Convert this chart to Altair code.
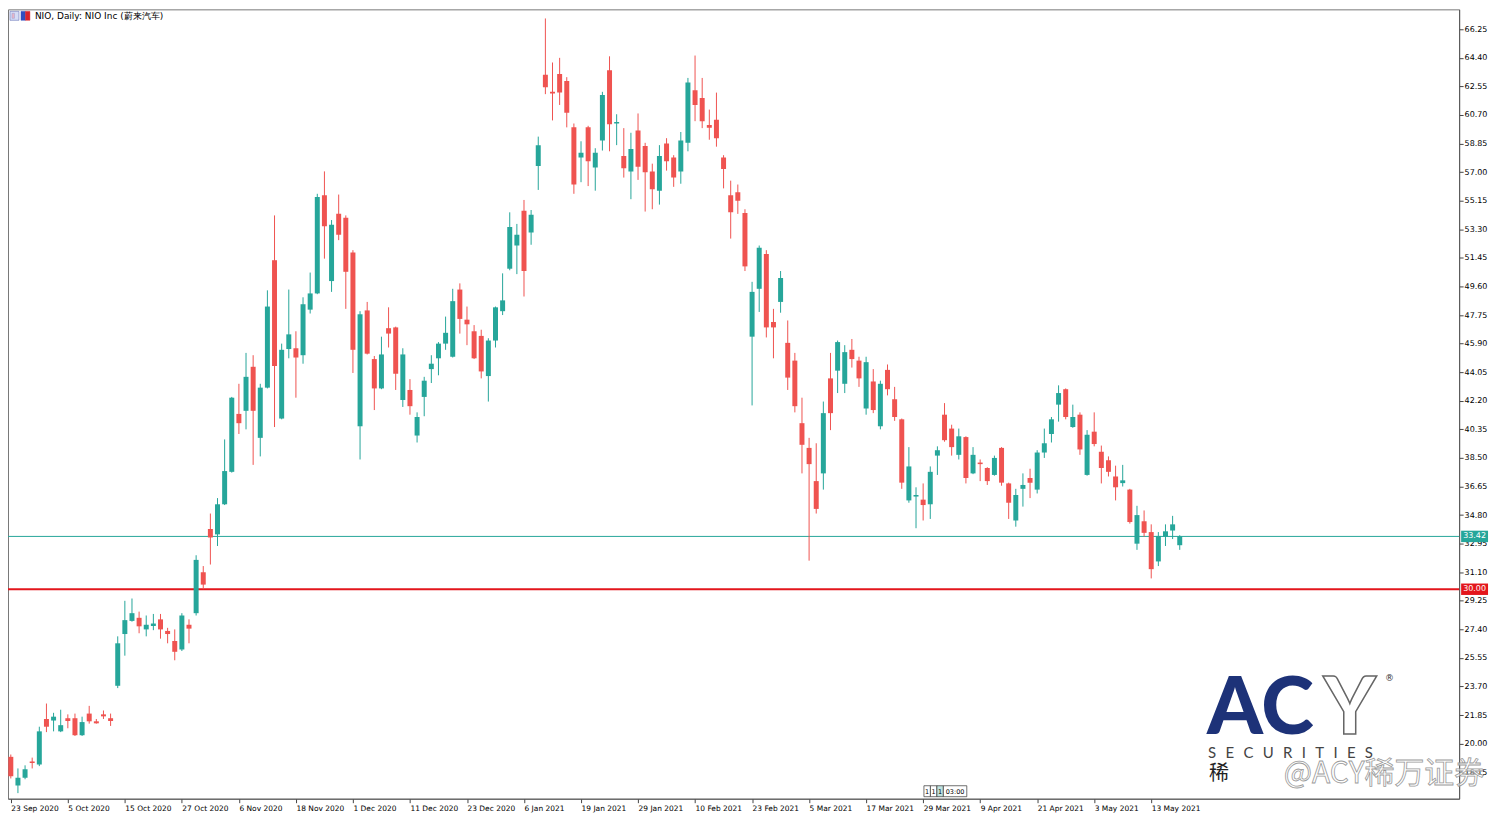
import altair as alt
import pandas as pd

# ---- data ----
opens = [19.15,17.3,17.8,18.85,18.65,21.6,21.5,20.8,21.65,21.65,20.55,21.95,21.45,21.9,21.65,
         23.75,27.1,27.95,28.15,27.4,27.7,28.05,27.3,26.65,26.1,27.7,28.45,31.1,33.9,33.55,
         35.5,37.6,41.35,41.55,44.4,39.8,43.05,51.3,41.05,45.55,45.6,45.15,48.1,49.15,55.5,
         49.95,54.3,54.05,51.8,40.55,48.05,44.9,43.0,46.9,46.95,42.25,42.9,39.95,42.45,44.25,
         44.95,45.9,45.05,49.4,47.45,46.7,46.4,43.8,46.1,48.0,50.75,52.25,54.5,53.1,57.4,
         63.3,62.2,63.35,62.9,59.9,57.95,59.9,57.3,59.05,63.6,60.15,58.05,57.05,59.7,58.7,
         57.05,55.8,58.85,57.95,57.05,58.9,62.3,61.8,60.05,60.4,57.95,55.5,55.7,54.35,46.35,
         49.45,51.7,47.3,48.6,45.95,44.8,40.75,39.15,37.0,37.5,43.65,44.15,43.3,45.5,44.8,
         41.7,43.45,40.55,44.2,42.3,41.0,35.75,36.0,35.8,35.5,38.65,41.3,40.4,38.7,39.85,
         37.5,38.2,37.85,37.4,39.15,36.85,34.45,36.5,37.2,36.45,38.85,40.05,41.95,42.95,40.5,
         41.3,37.4,40.2,38.9,38.35,37.3,36.95,36.45,32.95,34.4,33.7,31.8,33.4,33.8,32.85]
highs = [19.3,18.4,18.6,19.1,21.1,22.6,22.0,22.2,21.9,21.95,21.75,22.45,21.6,22.15,21.95,
         26.95,29.25,29.4,28.55,28.3,28.4,28.4,27.5,27.4,28.45,28.05,32.2,31.5,34.9,35.9,
         39.7,42.45,43.3,45.3,45.15,43.3,49.35,54.2,45.9,49.4,46.7,48.9,50.5,55.6,57.05,
         53.9,55.55,54.2,51.95,48.0,48.6,45.1,46.35,48.25,47.0,45.6,43.6,41.45,43.75,45.15,
         46.0,47.65,49.45,49.8,48.3,47.1,46.8,46.25,48.3,50.45,54.4,53.65,55.2,54.55,59.3,
         66.95,64.1,64.4,63.15,60.15,59.0,60.0,58.55,62.2,64.5,60.75,59.85,59.55,60.8,58.9,
         57.55,58.75,59.2,58.1,59.6,63.1,64.55,63.1,61.05,62.15,58.1,56.45,56.2,54.6,49.9,
         52.25,51.95,48.15,50.6,47.4,45.3,42.4,39.8,39.45,42.15,45.3,46.1,45.8,46.2,45.05,
         45.05,44.25,43.5,44.55,43.1,41.05,39.2,36.6,36.85,37.95,39.25,42.05,40.65,40.4,39.9,
         39.2,38.4,37.9,38.65,39.2,36.9,36.5,37.5,37.8,39.0,40.4,41.15,43.2,43.0,41.95,
         41.45,40.3,41.45,39.3,38.6,38.0,38.05,36.5,35.4,35.1,34.2,33.7,34.2,34.75,33.5]
lows = [17.75,16.8,17.7,18.4,18.55,20.75,20.8,20.75,21.0,20.5,20.5,21.3,21.3,21.6,21.15,
        23.6,25.7,27.9,27.15,26.95,27.35,26.8,26.5,25.4,26.0,26.5,28.3,30.0,31.6,32.8,
        35.45,37.55,40.05,40.35,38.05,38.6,43.0,40.5,41.0,44.95,42.4,44.6,47.85,49.1,51.4,
        49.25,52.6,48.15,44.0,38.4,45.2,41.6,42.95,45.65,42.9,41.8,41.3,39.5,41.2,43.35,
        43.85,45.5,45.0,46.55,45.8,44.9,43.65,42.15,45.65,47.75,50.65,50.4,48.95,52.3,55.85,
        62.05,60.35,61.35,59.9,55.6,56.35,56.1,55.8,58.4,58.35,58.75,56.65,55.25,56.5,54.45,
        54.6,54.9,57.1,56.05,56.25,58.35,60.3,59.85,59.1,58.65,55.95,52.7,54.3,50.6,41.9,
        47.95,46.3,44.95,47.9,42.9,41.45,37.5,31.85,34.9,36.45,40.3,42.7,42.7,44.35,43.1,
        41.3,41.4,40.35,42.55,40.9,36.5,35.6,33.95,34.45,34.55,37.4,39.55,38.65,38.4,36.85,
        37.45,37.0,36.75,37.35,36.7,34.55,34.05,35.35,35.9,36.2,38.5,39.5,40.85,41.0,40.45,
        38.7,37.35,39.25,36.85,37.3,35.75,36.65,34.25,32.55,33.4,30.7,31.5,32.8,33.25,32.55]
closes = [17.9,17.8,18.35,18.75,20.8,21.1,21.75,21.2,21.55,20.55,21.4,21.45,21.4,21.85,21.55,
          26.5,28.0,28.45,27.6,27.7,27.78,27.4,27.1,25.95,28.3,27.45,31.9,30.3,33.35,35.5,
          37.65,42.4,40.75,43.75,41.55,43.05,48.3,44.45,45.5,46.5,45.0,48.45,49.15,55.4,53.5,
          53.6,52.95,50.55,45.5,47.8,45.25,43.0,45.2,46.55,43.95,45.2,41.85,41.15,43.5,44.6,
          45.9,46.6,48.65,47.5,47.15,44.95,44.1,46.1,48.25,48.7,53.45,52.95,50.6,54.25,58.75,
          62.5,62.1,62.15,60.85,56.2,58.25,57.7,58.25,62.0,60.1,60.25,57.25,58.5,57.35,57.0,
          55.9,58.05,57.7,56.65,59.05,62.8,61.35,60.3,59.95,59.2,57.2,54.4,55.15,50.9,49.25,
          52.1,46.95,46.95,50.15,43.7,41.85,39.35,38.1,35.2,41.4,41.4,46.0,45.35,44.9,43.65,
          44.7,41.6,43.3,42.95,41.15,36.9,37.95,36.1,35.45,37.6,39.0,39.65,39.2,39.9,37.2,
          38.7,38.1,37.0,38.5,36.9,35.6,36.1,36.75,36.9,38.85,39.45,41.0,42.7,41.15,41.15,
          39.05,40.0,39.4,37.85,37.6,36.6,37.05,34.35,34.8,33.65,31.3,33.45,33.75,34.2,33.42]

date_labels = ["23 Sep 2020", "5 Oct 2020", "15 Oct 2020", "27 Oct 2020", "6 Nov 2020",
               "18 Nov 2020", "1 Dec 2020", "11 Dec 2020", "23 Dec 2020", "6 Jan 2021",
               "19 Jan 2021", "29 Jan 2021", "10 Feb 2021", "23 Feb 2021", "5 Mar 2021",
               "17 Mar 2021", "29 Mar 2021", "9 Apr 2021", "21 Apr 2021", "3 May 2021",
               "13 May 2021"]
date_tick_bars = [0, 8, 16, 24, 32, 40, 48, 56, 64, 72, 80, 88, 96, 104, 112, 120, 128, 136, 144, 152, 160]

price_ticks = [18.15, 20.00, 21.85, 23.70, 25.55, 27.40, 29.25, 31.10, 32.95, 34.80, 36.65,
               38.50, 40.35, 42.20, 44.05, 45.90, 47.75, 49.60, 51.45, 53.30, 55.15, 57.00,
               58.85, 60.70, 62.55, 64.40, 66.25]

levels = [33.42, 30.00]
level_names = ["bid", "support"]

TEAL = "#26a69a"
RED = "#ef5350"
LINE_RED = "#e3161c"
FONT = "DejaVu Sans"

df = pd.DataFrame({"bar": list(range(len(opens))), "open": opens, "high": highs,
                   "low": lows, "close": closes})
lv = pd.DataFrame({"level": levels, "name": level_names})

W, H = 1456, 792
xscale = alt.Scale(domain=[0.305, 202.5], nice=False, zero=False)
yscale = alt.Scale(domain=[16.44, 67.54], nice=False, zero=False)

label_arr = "[" + ",".join("'%s'" % s for s in date_labels) + "]"

x_axis = alt.Axis(values=date_tick_bars, labelExpr=label_arr + "[round(datum.value/8)]",
                  title=None, grid=False, orient="bottom", labelAlign="left",
                  labelBaseline="top", labelPadding=2, tickSize=4, labelFont=FONT,
                  labelFontSize=7.5, labelColor="#000", tickColor="#444",
                  domainColor="#555", labelOverlap=False, labelFlush=False)
y_axis = alt.Axis(values=price_ticks, format=".2f", title=None, grid=False,
                  orient="right", tickSize=4, labelPadding=1, labelFont=FONT,
                  labelFontSize=8, labelColor="#000", tickColor="#444",
                  domainColor="#555", labelOverlap=False, labelFlush=False)

color_cond = alt.condition("datum.close >= datum.open", alt.value(TEAL), alt.value(RED))

base = alt.Chart(df)

wicks = base.mark_rule(clip=True, strokeWidth=1).encode(
    x=alt.X("bar:Q", scale=xscale, axis=x_axis),
    y=alt.Y("low:Q", scale=yscale, axis=y_axis),
    y2="high:Q",
    color=color_cond,
)

bodies = base.transform_calculate(
    bt="max(datum.open, datum.close)",
    bb="abs(datum.open - datum.close) < 0.1 ? min(datum.open, datum.close) - 0.08 : min(datum.open, datum.close)",
).mark_bar(clip=True, size=5).encode(
    x=alt.X("bar:Q", scale=xscale, axis=x_axis),
    y=alt.Y("bt:Q", scale=yscale, axis=y_axis),
    y2="bb:Q",
    color=color_cond,
)

level_color = alt.Color("name:N", scale=alt.Scale(domain=level_names, range=[TEAL, LINE_RED]),
                        legend=None)
level_width = alt.StrokeWidth("name:N", scale=alt.Scale(domain=level_names, range=[1, 2]),
                              legend=None)

lines = alt.Chart(lv).mark_rule().encode(
    y=alt.Y("level:Q", scale=yscale, axis=y_axis),
    x=alt.value(0), x2=alt.value(W),
    color=level_color, strokeWidth=level_width,
)

boxes = alt.Chart(lv).transform_calculate(
    lo="datum.level - 0.37", hi="datum.level + 0.37"
).mark_rect().encode(
    y=alt.Y("lo:Q", scale=yscale, axis=y_axis), y2="hi:Q",
    x=alt.value(W + 2), x2=alt.value(W + 29),
    color=level_color,
)

box_text = alt.Chart(lv).mark_text(color="white", font=FONT, fontSize=8,
                                   align="center", baseline="middle").encode(
    y=alt.Y("level:Q", scale=yscale, axis=y_axis),
    x=alt.value(W + 15.5),
    text=alt.Text("level:Q", format=".2f"),
)

one = pd.DataFrame({"a": [0]})


def box(x0, x1, y0, y1, fill, stroke="#333", sw=0.7):
    return alt.Chart(one).mark_rect(fill=fill, stroke=stroke, strokeWidth=sw).encode(
        x=alt.value(x0), x2=alt.value(x1), y=alt.value(y0), y2=alt.value(y1))


def label(txt, x, y, **kw):
    return alt.Chart(pd.DataFrame({"t": [txt]})).mark_text(**kw).encode(
        x=alt.value(x), y=alt.value(y), text="t:N")


# header text and icons
header = label("NIO, Daily: NIO Inc (蔚来汽车)", 27, 7, align="left", baseline="middle",
               font=FONT, fontSize=9, color="#000")
icons = [
    box(2, 11, 2, 11, "#d6dcf5", "#6a76b8", 0.6),
    box(4, 6.5, 4, 9, "#e8b8c8", "#8a8fcf", 0.4),
    box(13, 17.5, 2, 11, "#2f4fc0", "#2f4fc0", 0.4),
    box(17.5, 22, 2, 11, "#d8232a", "#d8232a", 0.4),
]

# period separator boxes
sep_items = [(919, 925.5, "1", "#ffffff"), (925.5, 932, "1", "#ffffff"),
             (932, 938.5, "1", "#bfe3df"), (938.5, 962, "03:00", "#ffffff")]
seps = []
for x0, x1, t, c in sep_items:
    seps.append(box(x0, x1, 779, 790, c))
    seps.append(label(t, (x0 + x1) / 2, 785, font=FONT, fontSize=6.5, color="#000",
                      align="center", baseline="middle"))

# ACY watermark
logo = [
    label("AC", 1203, 727, font="Lato", fontWeight=900, fontSize=80, color="#1d3278",
          align="left", baseline="alphabetic"),
    label("Y", 1320, 727, font="Lato", fontWeight=900, fontSize=80, fill="#ffffff",
          stroke="#666", strokeWidth=1.5, align="left", baseline="alphabetic"),
    label("®", 1386, 671, font=FONT, fontSize=9, color="#333", align="center",
          baseline="middle"),
    label("\u2002\u2009".join("SECURITIES"), 1204, 746, font="Lato", fontSize=15,
          color="#444", align="left", baseline="middle"),
    label("稀", 1205, 767, font="Noto Sans CJK SC", fontSize=20, color="#222",
          align="left", baseline="middle"),
    label("@ACY稀万证券", 1280, 767, font="Noto Sans CJK SC", fontSize=30, fill="#ffffff",
          stroke="#9a9a9a", strokeWidth=0.8, fillOpacity=0.6, align="left",
          baseline="middle"),
]

chart = alt.layer(
    lines, wicks, bodies, boxes, box_text, header, *icons, *seps, *logo
).properties(
    width=W, height=H,
    autosize=alt.AutoSizeParams(type="none"),
    padding={"left": 0, "top": 0, "right": 40, "bottom": 15},
    background="white",
).configure_view(stroke="#777", strokeWidth=1)

chart.save("out.html", embed_options={"renderer": "svg", "actions": False})
